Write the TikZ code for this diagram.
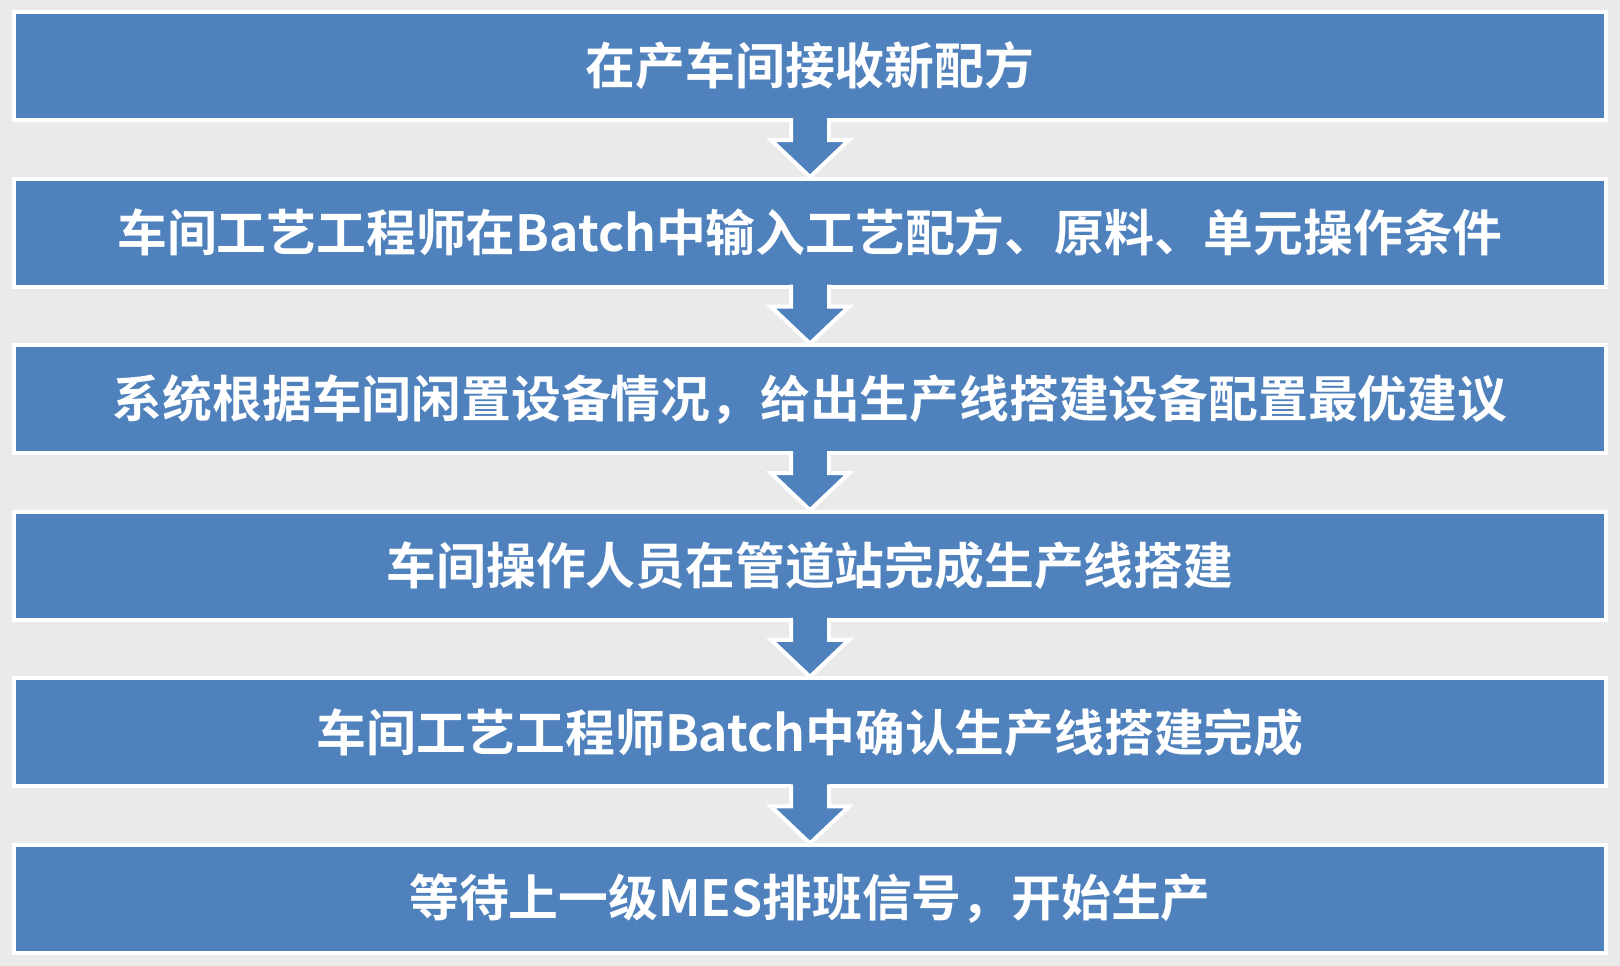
\documentclass[tikz,border=0pt]{standalone}
\usepackage{fontspec}
\newfontfamily\cjk{Noto Sans CJK SC Bold}
\definecolor{boxblue}{RGB}{79,129,189}
\definecolor{bggrey}{RGB}{234,234,234}
\tikzset{
  stepbox/.style={draw=white, line width=4pt, fill=boxblue},
  steptext/.style={text=white, font=\cjk\fontsize{49.8}{58}\selectfont, anchor=center, inner sep=0pt},
  arrowfill/.style={fill=boxblue, draw=none},
  arrowedge/.style={draw=white, line width=4pt, line join=miter}
}
\begin{document}
\begin{tikzpicture}[x=1pt,y=-1pt]
\fill[bggrey] (0,0) rectangle (1620,966);
\useasboundingbox (0,0) rectangle (1620,966);
\def\pitch{166.6}
% boxes
\foreach \i in {0,...,5}{
  \pgfmathsetmacro\tp{10+\pitch*\i}
  \draw[stepbox] (14,\tp+2) rectangle (1606,\tp+110);
}
% arrows
\foreach \i in {0,...,4}{
  \pgfmathsetmacro\tp{10+\pitch*\i}
  \fill[arrowfill] (791,\tp+100) -- (791,\tp+130) -- (771,\tp+130) -- (810,\tp+167) -- (849,\tp+130) -- (829,\tp+130) -- (829,\tp+100) -- cycle;
  \draw[arrowedge] (791,\tp+108) -- (791,\tp+130) -- (771,\tp+130) -- (810,\tp+167) -- (849,\tp+130) -- (829,\tp+130) -- (829,\tp+108);
}
\node[steptext] (s1) at (810,66) {在产车间接收新配方};
\node[steptext] (s2) at (810,232.6) {车间工艺工程师在Batch中输入工艺配方、原料、单元操作条件};
\node[steptext] (s3) at (810,399.2) {系统根据车间闲置设备情况，给出生产线搭建设备配置最优建议};
\node[steptext] (s4) at (810,565.8) {车间操作人员在管道站完成生产线搭建};
\node[steptext] (s5) at (810,732.4) {车间工艺工程师Batch中确认生产线搭建完成};
\node[steptext] (s6) at (810,899) {等待上一级MES排班信号，开始生产};
\end{tikzpicture}
\end{document}
